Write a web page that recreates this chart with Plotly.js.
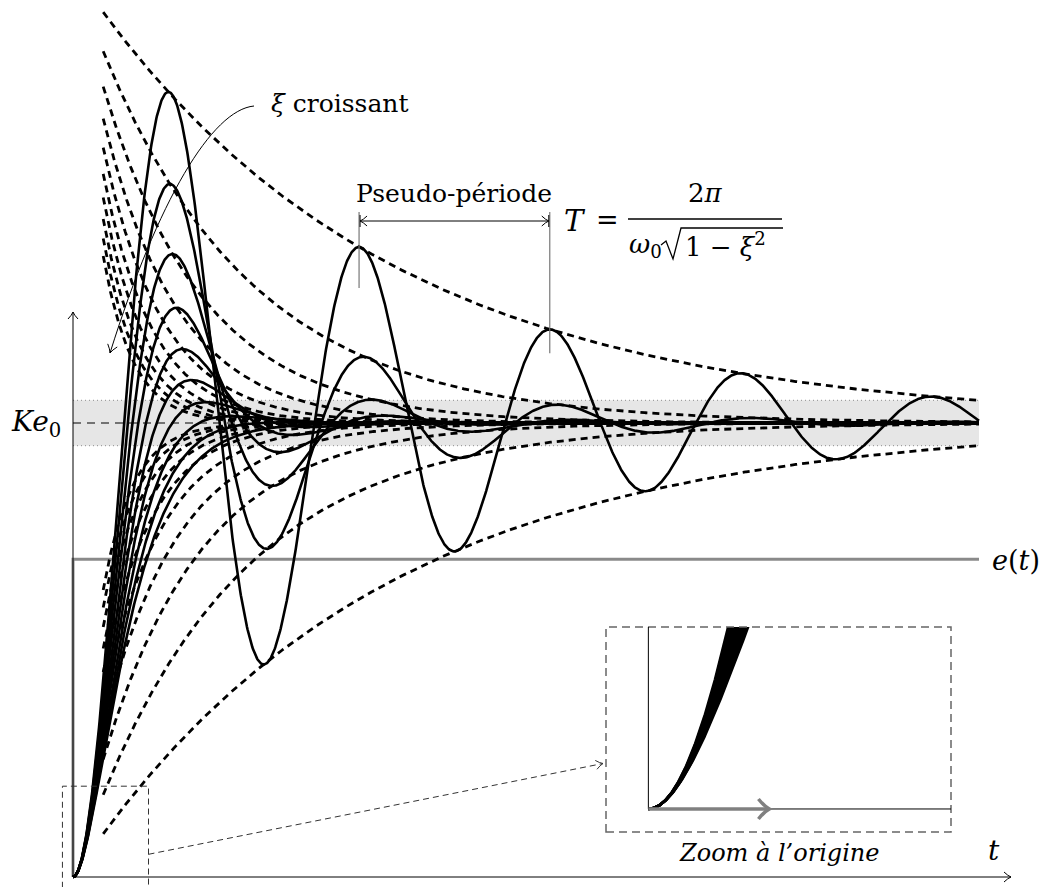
<!DOCTYPE html>
<html><head><meta charset="utf-8">
<script src="https://cdn.plot.ly/plotly-3.0.1.min.js"></script>
<style>html,body{margin:0;padding:0;background:#fff}</style>
</head><body>
<div id="chart" style="width:1044px;height:887px"></div>
<script>
// ---------------- data ----------------
const dampingRatios = [0.1, 0.2, 0.3, 0.4, 0.5, 0.6, 0.7, 0.8, 0.9, 1.0]; // ξ
const naturalFrequency = [1.0];      // ω0 (time unit = 1/ω0)
const finalValue = [1.0];            // K e0
const stepInput = [0.7];             // e(t) level, relative to K e0
const timeSpan = [0, 30];            // horizontal extent of the curves
const envelopeStart = [1];           // dashed envelopes drawn from this time
const toleranceBand = [0.05];        // ±5 % grey band around K e0
const zoomWindowT = [-0.35, 2.5];    // "Zoom à l'origine" window (time)
const zoomWindowY = [-0.0253, 0.2];  // "Zoom à l'origine" window (value)
const zoomMarkerT = [0, 1];          // grey arrow inside the zoom
const labels = {
  croissant: "<i>ξ</i> croissant",
  pseudo: "Pseudo-période",
  ke0: "<i>Ke</i><sub>0</sub>",
  input: "<i>e</i>(<i>t</i>)",
  time: "<i>t</i>",
  zoom: "<i>Zoom à l’origine</i>"
};

// ---------------- geometry / styles ----------------
const W = 1044, H = 887;
const ORIGIN = [73, 877], PX_PER_S = 30.2, PX_PER_UNIT = 454;
const mainX = [-ORIGIN[0] / PX_PER_S, (W - ORIGIN[0]) / PX_PER_S];
const mainY = [-(H - ORIGIN[1]) / PX_PER_UNIT, ORIGIN[1] / PX_PER_UNIT];
const INSET = {left: 606, right: 951, top: 627, bottom: 832};
const FONT = "DejaVu Serif";

const mx = t => ORIGIN[0] + (t - 0) * PX_PER_S;
const my = v => ORIGIN[1] - v * PX_PER_UNIT;
const ix = t => INSET.left + (t - zoomWindowT[0]) / (zoomWindowT[1] - zoomWindowT[0]) * (INSET.right - INSET.left);
const iy = v => INSET.bottom - (v - zoomWindowY[0]) / (zoomWindowY[1] - zoomWindowY[0]) * (INSET.bottom - INSET.top);
const PX = x => x / W, PY = y => 1 - y / H;

// ---------------- model ----------------
const w0 = naturalFrequency[0], K = finalValue[0];
function response(xi, t) {
  if (xi >= 0.9999) return K * (1 - (1 + w0 * t) * Math.exp(-w0 * t));
  const s = Math.sqrt(1 - xi * xi);
  return K * (1 - Math.exp(-xi * w0 * t) / s * Math.sin(w0 * s * t + Math.acos(xi)));
}
function grid(a, b, n) { const g = []; for (let k = 0; k <= n; k++) g.push(a + (b - a) * k / n); return g; }

const tMain = grid(timeSpan[0], timeSpan[1], 1500);
const tEnv = grid(envelopeStart[0], timeSpan[1], 1200);
const tZoom = grid(0, 1.0, 300);

const traces = [];
// e(t) step
traces.push({x: [0, 0, timeSpan[1]], y: [0, stepInput[0], stepInput[0]], mode: 'lines',
  line: {color: '#8a8a8a', width: 3}, hoverinfo: 'skip', xaxis: 'x', yaxis: 'y'});
// envelopes
dampingRatios.forEach(xi => {
  [1, -1].forEach(sg => {
    traces.push({x: tEnv, y: tEnv.map(t => K * (1 + sg * Math.exp(-xi * w0 * t))), mode: 'lines',
      line: {color: '#000', width: 2.8, dash: '7px,5px'}, hoverinfo: 'skip', xaxis: 'x', yaxis: 'y'});
  });
});
// responses
dampingRatios.forEach(xi => {
  traces.push({x: tMain, y: tMain.map(t => response(xi, t)), mode: 'lines',
    line: {color: '#000', width: 2.6}, hoverinfo: 'skip', xaxis: 'x', yaxis: 'y'});
});
// zoom at the origin: filled band between the extreme ξ, plus each curve
const xiLo = dampingRatios[dampingRatios.length - 1], xiHi = dampingRatios[0];
traces.push({x: tZoom, y: tZoom.map(t => response(xiLo, t)), mode: 'lines',
  line: {color: '#000', width: 2.6}, hoverinfo: 'skip', xaxis: 'x2', yaxis: 'y2'});
traces.push({x: tZoom, y: tZoom.map(t => response(xiHi, t)), mode: 'lines', fill: 'tonexty', fillcolor: '#000',
  line: {color: '#000', width: 2.6}, hoverinfo: 'skip', xaxis: 'x2', yaxis: 'y2'});
dampingRatios.slice(1, -1).forEach(xi => {
  traces.push({x: tZoom, y: tZoom.map(t => response(xi, t)), mode: 'lines',
    line: {color: '#000', width: 2.6}, hoverinfo: 'skip', xaxis: 'x2', yaxis: 'y2'});
});

// ---------------- decorations ----------------
const shapes = [];
const seg = (x0, y0, x1, y1, color, width, dash) => ({type: 'line', xref: 'paper', yref: 'paper',
  x0: PX(x0), y0: PY(y0), x1: PX(x1), y1: PY(y1), line: {color, width, dash: dash || 'solid'}, layer: 'above'});
function arrowHead(tx, ty, fx, fy, len, half, color, width) {
  const dx = tx - fx, dy = ty - fy, n = Math.hypot(dx, dy), ux = dx / n, uy = dy / n, nx = -uy, ny = ux;
  const bx = tx - ux * len, by = ty - uy * len;
  const p1 = [bx + nx * half, by + ny * half], p2 = [bx - nx * half, by - ny * half];
  const c1 = [tx - ux * len * 0.45 + nx * half * 0.25, ty - uy * len * 0.45 + ny * half * 0.25];
  const c2 = [tx - ux * len * 0.45 - nx * half * 0.25, ty - uy * len * 0.45 - ny * half * 0.25];
  return {type: 'path', xref: 'paper', yref: 'paper',
    path: `M ${PX(p1[0])} ${PY(p1[1])} Q ${PX(c1[0])} ${PY(c1[1])} ${PX(tx)} ${PY(ty)} Q ${PX(c2[0])} ${PY(c2[1])} ${PX(p2[0])} ${PY(p2[1])}`,
    line: {color, width}, layer: 'above'};
}

// tolerance band
shapes.push({type: 'rect', xref: 'x', yref: 'y', x0: 0, x1: timeSpan[1], y0: K * (1 - toleranceBand[0]), y1: K * (1 + toleranceBand[0]),
  fillcolor: '#e6e6e6', line: {width: 0}, layer: 'below'});
[1 - toleranceBand[0], 1 + toleranceBand[0]].forEach(v => shapes.push({type: 'line', xref: 'x', yref: 'y', x0: 0, x1: timeSpan[1],
  y0: K * v, y1: K * v, line: {color: '#8c8c8c', width: 1, dash: '1px,3px'}, layer: 'below'}));
shapes.push({type: 'line', xref: 'x', yref: 'y', x0: 0, x1: timeSpan[1], y0: K, y1: K,
  line: {color: '#000', width: 1, dash: '8px,6px'}, layer: 'below'});

// axes
shapes.push(seg(mx(0), my(0), mx(0), 312, '#000', 1));
shapes.push(arrowHead(mx(0), 312, mx(0), 400, 7, 5, '#000', 1));
shapes.push(seg(mx(0), my(0), 1011, my(0), '#000', 1));
shapes.push(arrowHead(1011, my(0), 900, my(0), 7, 5, '#000', 1));

// small zoom window in the main plot
shapes.push({type: 'rect', xref: 'x', yref: 'y', x0: zoomWindowT[0], x1: zoomWindowT[1], y0: zoomWindowY[0], y1: zoomWindowY[1],
  line: {color: '#333', width: 1, dash: '6px,4px'}, fillcolor: 'rgba(0,0,0,0)', layer: 'above'});
// connector
const cY = 0.05;
shapes.push(seg(mx(zoomWindowT[1]), my(cY), ix(zoomWindowT[0]) - 3, iy(cY), '#333', 1, '6px,4px'));
shapes.push(arrowHead(ix(zoomWindowT[0]) - 3, iy(cY), mx(zoomWindowT[1]), my(cY), 7, 4.5, '#333', 1));

// inset frame and axes
shapes.push({type: 'rect', xref: 'paper', yref: 'paper', x0: PX(INSET.left), x1: PX(INSET.right), y0: PY(INSET.bottom), y1: PY(INSET.top),
  line: {color: '#666', width: 1.5, dash: '8px,5px'}, fillcolor: 'rgba(0,0,0,0)', layer: 'above'});
shapes.push(seg(ix(0), iy(0), ix(0), INSET.top, '#000', 1));
shapes.push(seg(ix(0), iy(0), INSET.right, iy(0), '#000', 1));
shapes.push(seg(ix(zoomMarkerT[0]), iy(0), ix(zoomMarkerT[1]) - 1, iy(0), '#808080', 3.5));
shapes.push(arrowHead(ix(zoomMarkerT[1]), iy(0), ix(zoomMarkerT[0]), iy(0), 11, 10, '#808080', 3.5));

// pseudo-period marks (ξ = 0.1, 2nd and 3rd maxima)
const xiP = dampingRatios[0], wd = w0 * Math.sqrt(1 - xiP * xiP);
const tA = 3 * Math.PI / wd, tB = 5 * Math.PI / wd;
const xA = mx(tA), xB = mx(tB), yArr = 221;
shapes.push(seg(xA, 212, xA, my(response(xiP, tA)) + 41, '#777', 1.2));
shapes.push(seg(xB, 212, xB, my(response(xiP, tB)) + 24, '#777', 1.2));
shapes.push(seg(xA + 1, yArr, xB - 1, yArr, '#000', 1));
shapes.push(seg(xA + 1, yArr - 6, xA + 1, yArr + 6, '#000', 1));
shapes.push(seg(xB - 1, yArr - 6, xB - 1, yArr + 6, '#000', 1));
shapes.push(arrowHead(xA + 1, yArr, xA + 40, yArr, 7, 5, '#000', 1));
shapes.push(arrowHead(xB - 1, yArr, xB - 40, yArr, 7, 5, '#000', 1));

// fraction T = 2π / (ω0 √(1-ξ²))
shapes.push(seg(628, 219, 782, 219, '#000', 1.3));
shapes.push({type: 'path', xref: 'paper', yref: 'paper',
  path: `M ${PX(661)} ${PY(245)} L ${PX(666)} ${PY(241)} L ${PX(673)} ${PY(259)} L ${PX(681)} ${PY(228)} L ${PX(783)} ${PY(228)}`,
  line: {color: '#000', width: 1.3}, layer: 'above'});

// ξ croissant curved arrow
shapes.push({type: 'path', xref: 'paper', yref: 'paper',
  path: `M ${PX(254)} ${PY(106)} C ${PX(212)} ${PY(110)} ${PX(158)} ${PY(200)} ${PX(110)} ${PY(353)}`,
  line: {color: '#000', width: 1}, layer: 'above'});
shapes.push(arrowHead(110, 353, 124, 310, 8, 5, '#000', 1));

// ---------------- text ----------------
const ann = (x, y, text, size, xanchor) => ({xref: 'paper', yref: 'paper', x: PX(x), y: PY(y), text, showarrow: false,
  font: {family: FONT, size, color: '#000'}, xanchor: xanchor || 'center', yanchor: 'middle'});
const annotations = [
  ann(269, 104, labels.croissant, 25, 'left'),
  ann(454, 194, labels.pseudo, 25),
  ann(575, 221, "<i>T</i>", 29),
  ann(607, 220, "=", 27),
  ann(705, 193, "2<i>π</i>", 26),
  ann(645, 246, "<i>ω</i><sub>0</sub>", 26),
  ann(683, 245, "1 − <i>ξ</i><sup>2</sup>", 26, 'left'),
  ann(36, 423, labels.ke0, 28),
  ann(1016, 560, labels.input, 27),
  ann(994, 850, labels.time, 28),
  ann(779, 853, labels.zoom, 24)
];

const layout = {
  width: W, height: H, margin: {l: 0, r: 0, t: 0, b: 0},
  paper_bgcolor: '#fff', plot_bgcolor: 'rgba(0,0,0,0)', showlegend: false,
  font: {family: FONT},
  xaxis: {range: mainX, domain: [0, 1], visible: false, fixedrange: true},
  yaxis: {range: mainY, domain: [0, 1], visible: false, fixedrange: true},
  xaxis2: {range: zoomWindowT, domain: [PX(INSET.left), PX(INSET.right)], anchor: 'y2', visible: false, fixedrange: true},
  yaxis2: {range: zoomWindowY, domain: [PY(INSET.bottom), PY(INSET.top)], anchor: 'x2', visible: false, fixedrange: true},
  shapes, annotations
};
Plotly.newPlot('chart', traces, layout, {displayModeBar: false, staticPlot: true});
</script>
</body></html>
